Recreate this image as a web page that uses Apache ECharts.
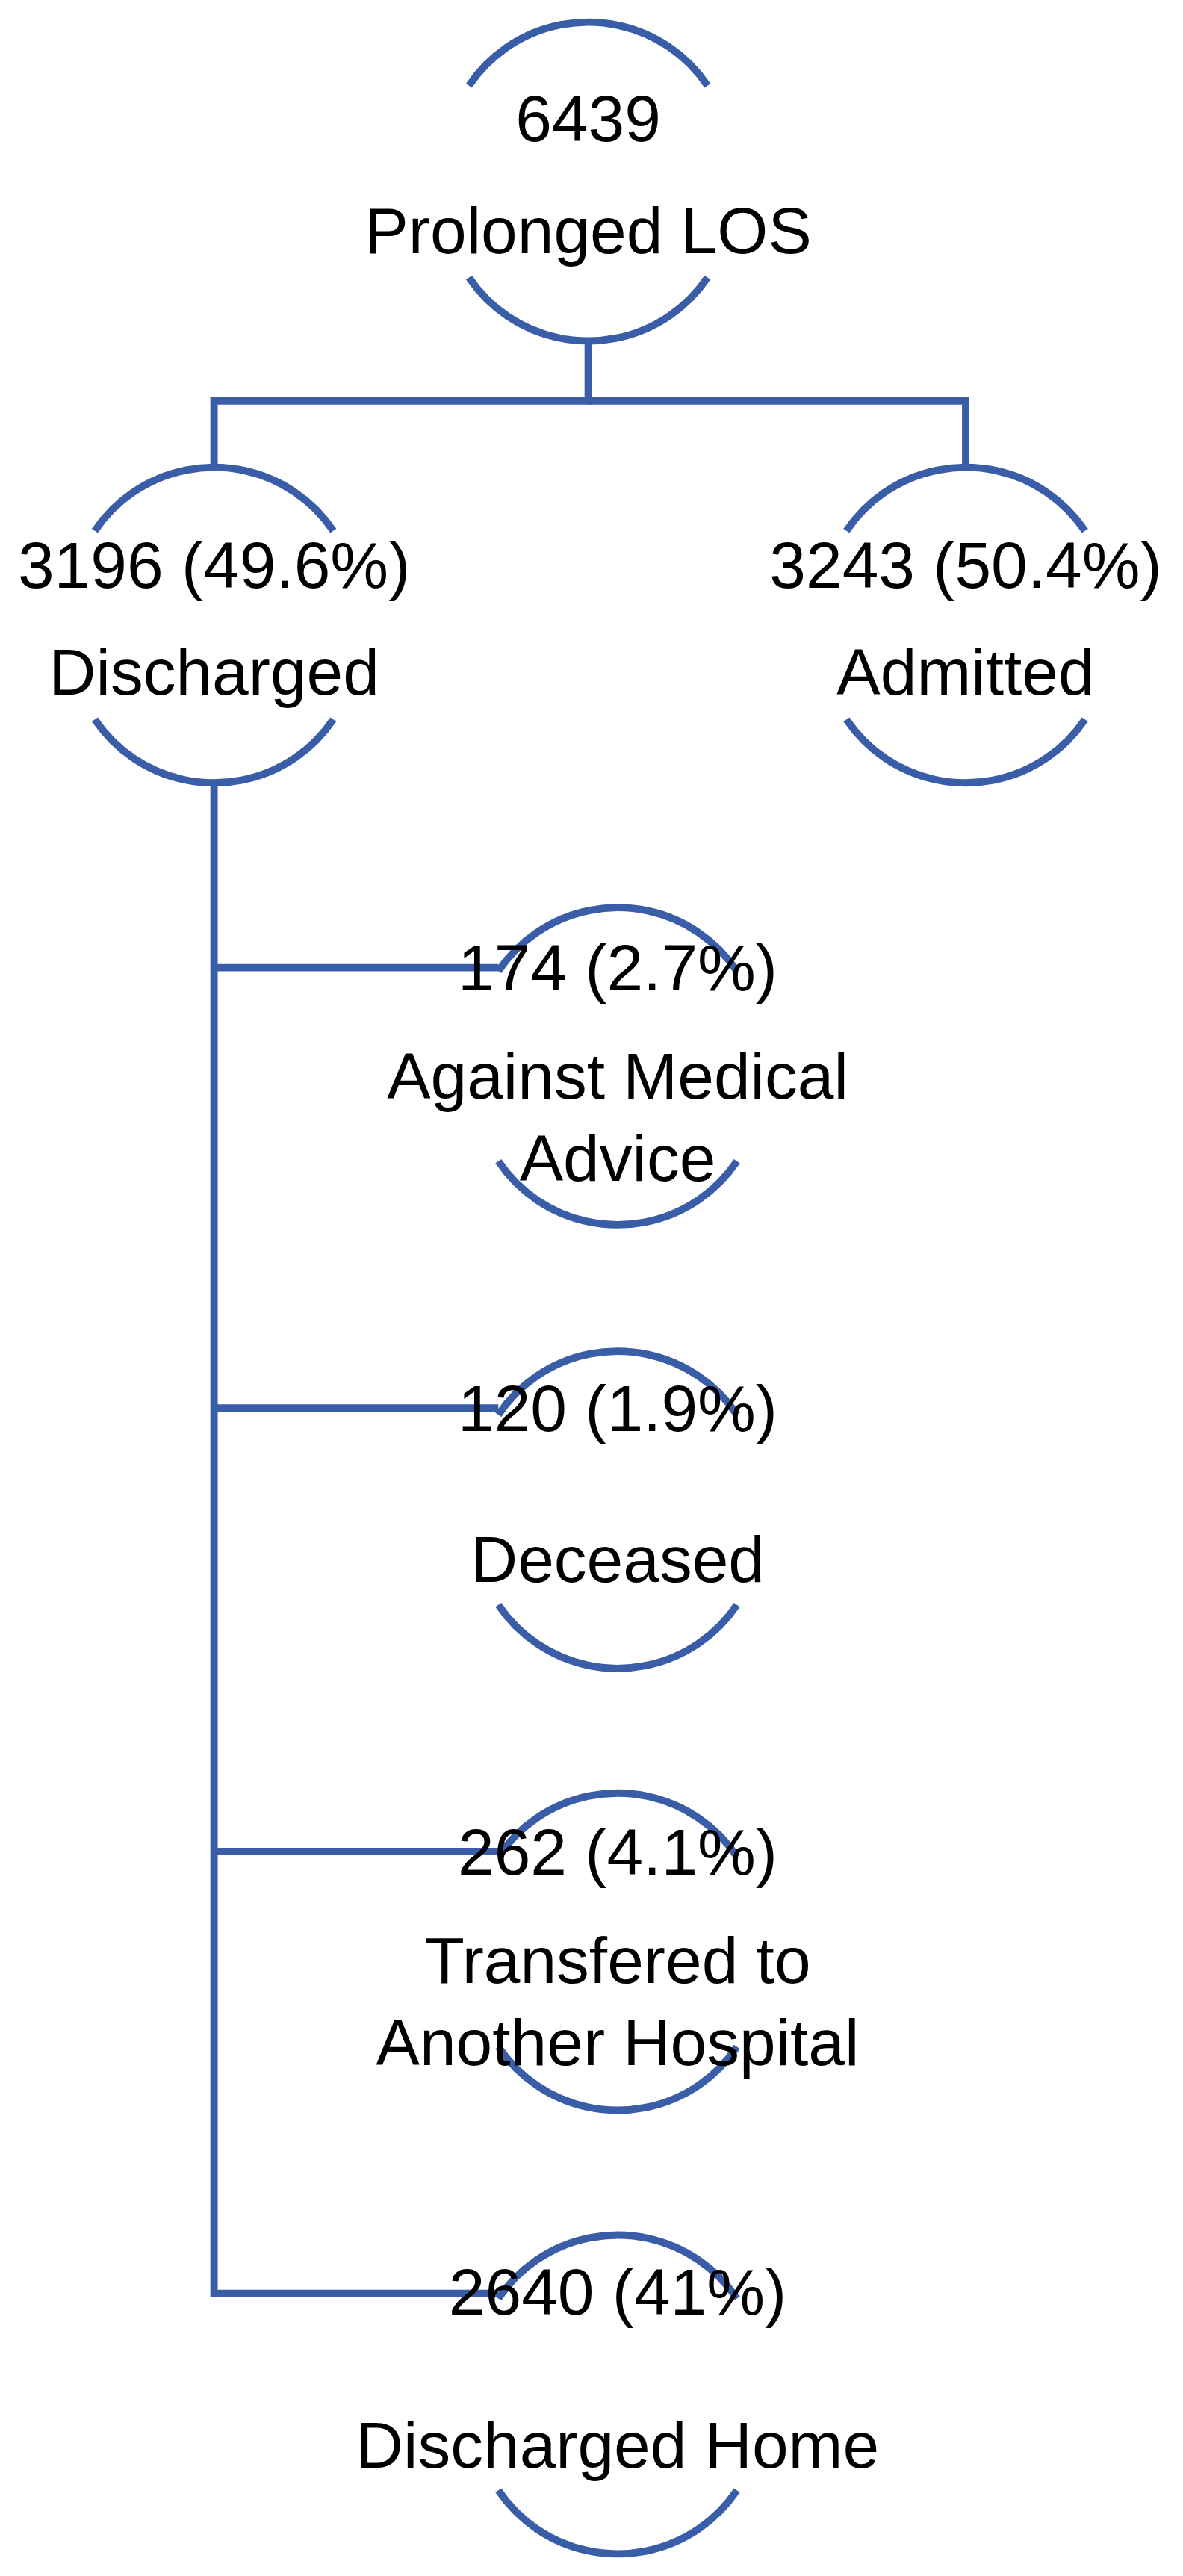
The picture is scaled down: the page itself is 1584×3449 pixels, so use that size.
<!DOCTYPE html>
<html><head><meta charset="utf-8">
<script src="https://cdn.jsdelivr.net/npm/echarts@6/dist/echarts.min.js"></script>
<style>html,body{margin:0;background:#fff}#c{width:1584px;height:3449px}</style></head>
<body><div id="c"></div>
<script>
// node content
const nodeNames = ['Prolonged LOS','Discharged','Admitted','Against Medical\nAdvice','Deceased','Transfered to\nAnother Hospital','Discharged Home'];
const nodeCounts = [6439,3196,3243,174,120,262,2640];
const nodePercents = [null,'49.6%','50.4%','2.7%','1.9%','4.1%','41%'];
// layout (reference units, 724 x 1568 canvas)
const nodeX = [360,131,591,378,378,378,378];
const arcTop = [13,284,284,552,822,1091,1360];
const arcBottom = [208,477,477,746,1016,1285,1555];
const labelY = [[75,143],[347,412],[347,412],[592,658,708],[860,952],[1130,1196,1246],[1398,1491]];
const links = [
  [[360,208],[360,244],[131,244],[131,284]],
  [[360,244],[591,244],[591,284]],
  [[131,477],[131,1396],[305,1396]],
  [[131,589],[305,589]],[[131,857],[305,857]],[[131,1127],[305,1127]]
];
const COLOR='#3a5da8', R=88, HALF=73;
const chart = echarts.init(document.getElementById('c'));
function arc(api, cx, cy, r, start, end){
  const c = api.coord([cx, cy]); const rr = api.size([r,0])[0];
  return {type:'arc', shape:{cx:c[0], cy:c[1], r:rr, startAngle:start, endAngle:end, clockwise:true},
    style:{stroke:COLOR, lineWidth:api.size([4.5,0])[0], fill:null}};
}
const ang = Math.asin(HALF/R);
chart.setOption({
  animation:false,
  grid:{left:0,right:0,top:0,bottom:0},
  xAxis:{type:'value',min:0,max:724,show:false},
  yAxis:{type:'value',min:0,max:1568,inverse:true,show:false},
  series:[
    {type:'custom', data:links.map((l,i)=>[i]), renderItem:(p,api)=>{
      const l = links[api.value(0)];
      return {type:'polyline', shape:{points:l.map(pt=>api.coord(pt))},
        style:{stroke:COLOR, lineWidth:api.size([4.5,0])[0], fill:null}};
    }},
    {type:'custom', data:nodeNames.map((n,i)=>[i]), renderItem:(p,api)=>{
      const i = api.value(0);
      const cx = nodeX[i];
      const children = [
        arc(api, cx, arcTop[i]+R, R, -Math.PI/2-ang, -Math.PI/2+ang),
        arc(api, cx, arcBottom[i]-R, R, Math.PI/2-ang, Math.PI/2+ang)
      ];
      const first = nodePercents[i] ? nodeCounts[i]+' ('+nodePercents[i]+')' : String(nodeCounts[i]);
      const lines = [first].concat(nodeNames[i].split('\n'));
      const fs = api.size([40,0])[0];
      lines.forEach((t,k)=>{
        const c = api.coord([cx, labelY[i][k]]);
        children.push({type:'text', style:{text:t, x:c[0], y:c[1], align:'center', verticalAlign:'middle',
          font:fs+'px "Liberation Sans", Arial, sans-serif', fill:'#000'}});
      });
      return {type:'group', children};
    }}
  ]
});
</script></body></html>
